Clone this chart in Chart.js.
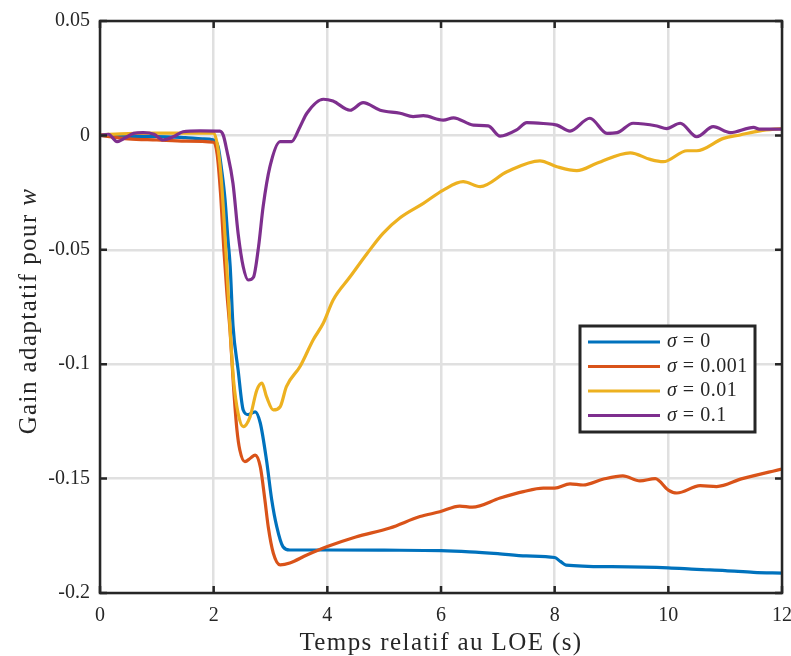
<!DOCTYPE html>
<html>
<head>
<meta charset="utf-8">
<script src="https://cdn.jsdelivr.net/npm/chart.js@4.4.1/dist/chart.umd.min.js"></script>
<style>
  html, body { margin: 0; padding: 0; background: #fff; }
  #wrap { width: 791px; height: 656px; }
</style>
</head>
<body>
<div id="wrap"><canvas id="gain-chart" width="791" height="656"></canvas></div>
<script>
// axis ticks
const xTicks = [0, 2, 4, 6, 8, 10, 12];
const yTicks = [0.05, 0, -0.05, -0.1, -0.15, -0.2];
const yTickLabels = ['0.05', '0', '-0.05', '-0.1', '-0.15', '-0.2'];

// sigma = 0
const tSigma0 = [0, 0.5, 1.0, 1.5, 1.8, 2.0, 2.08, 2.14, 2.2, 2.25, 2.29, 2.34, 2.43, 2.52, 2.61, 2.73, 2.82, 2.93, 3.02, 3.11, 3.22, 3.34, 4, 5, 6, 6.5, 7, 7.5, 8.0, 8.1, 8.2, 9, 10, 10.5, 11, 11.5, 12];
const gSigma0 = [0, -0.0005, -0.0005, -0.001, -0.0015, -0.002, -0.005, -0.015, -0.028, -0.045, -0.057, -0.083, -0.1025, -0.12, -0.122, -0.1208, -0.1257, -0.142, -0.159, -0.171, -0.1798, -0.1812, -0.1812, -0.1813, -0.1815, -0.182, -0.1828, -0.1838, -0.1845, -0.1862, -0.1878, -0.1885, -0.189, -0.1897, -0.1902, -0.191, -0.1913];

// sigma = 0.001
const tSigma1 = [0, 0.5, 1.0, 1.5, 2.0, 2.06, 2.12, 2.18, 2.23, 2.29, 2.35, 2.41, 2.46, 2.55, 2.65, 2.73, 2.82, 2.9, 2.96, 3.05, 3.17, 3.34, 3.64, 4.0, 4.5, 5.1, 5.63, 5.98, 6.33, 6.55, 7.04, 7.45, 7.8, 8.0, 8.27, 8.5, 8.86, 9.2, 9.5, 9.77, 10.0, 10.15, 10.56, 10.85, 11.3, 12];
const gSigma1 = [0, -0.0015, -0.002, -0.0025, -0.003, -0.008, -0.025, -0.05, -0.068, -0.086, -0.11, -0.1288, -0.1375, -0.1426, -0.141, -0.1397, -0.1448, -0.159, -0.171, -0.1826, -0.1877, -0.1869, -0.1834, -0.1797, -0.1755, -0.1716, -0.1666, -0.1645, -0.162, -0.1625, -0.1585, -0.1557, -0.1542, -0.1542, -0.1523, -0.1528, -0.1502, -0.1488, -0.151, -0.150, -0.155, -0.1563, -0.1531, -0.1535, -0.150, -0.1458];

// sigma = 0.01
const tSigma2 = [0, 0.5, 1.0, 1.5, 2.0, 2.08, 2.14, 2.23, 2.29, 2.35, 2.43, 2.52, 2.64, 2.76, 2.85, 2.93, 3.05, 3.17, 3.28, 3.52, 3.75, 3.93, 4.1, 4.4, 4.7, 4.98, 5.28, 5.69, 6.04, 6.39, 6.69, 7.16, 7.74, 8.04, 8.39, 8.74, 9.33, 9.68, 9.91, 10.33, 10.5, 10.97, 11.26, 11.61, 12];
const gSigma2 = [0.0003, 0.0008, 0.001, 0.001, 0.001, -0.0064, -0.021, -0.057, -0.085, -0.107, -0.1215, -0.1273, -0.123, -0.1113, -0.1083, -0.1142, -0.12, -0.1186, -0.1098, -0.101, -0.0894, -0.082, -0.072, -0.0618, -0.0516, -0.0428, -0.036, -0.0297, -0.0239, -0.0202, -0.0224, -0.0159, -0.0111, -0.0137, -0.0154, -0.0122, -0.0076, -0.0105, -0.0115, -0.0067, -0.0067, -0.0013, 0.0002, 0.002, 0.003];

// sigma = 0.1
const tSigma3 = [0, 0.15, 0.3, 0.45, 0.59, 0.76, 0.95, 1.11, 1.3, 1.46, 1.76, 2.11, 2.17, 2.23, 2.34, 2.43, 2.52, 2.61, 2.7, 2.79, 2.87, 2.99, 3.17, 3.37, 3.52, 3.64, 3.93, 4.1, 4.4, 4.63, 4.93, 5.28, 5.51, 5.69, 6.04, 6.22, 6.57, 6.83, 7.04, 7.33, 7.51, 7.8, 8.04, 8.27, 8.62, 8.92, 9.1, 9.38, 9.8, 9.97, 10.21, 10.5, 10.79, 11.09, 11.5, 11.6, 12];
const gSigma3 = [0, 0.0005, -0.0027, -0.001, 0.0009, 0.0012, 0.0005, -0.002, -0.0005, 0.0016, 0.002, 0.0019, 0, -0.0064, -0.021, -0.0428, -0.0574, -0.0632, -0.062, -0.0486, -0.0312, -0.0137, -0.0027, -0.0027, 0.0038, 0.0097, 0.0158, 0.015, 0.011, 0.0143, 0.011, 0.0097, 0.0082, 0.0086, 0.0067, 0.0077, 0.0045, 0.0042, -0.0003, 0.0024, 0.0056, 0.0052, 0.0045, 0.0019, 0.0075, 0.0009, 0.0012, 0.0053, 0.0041, 0.003, 0.0053, -0.0006, 0.0038, 0.0012, 0.0035, 0.0027, 0.0027];

const seriesLabels = ['0', '0.001', '0.01', '0.1'];
const seriesColors = ['#0072BD', '#D95319', '#EDB120', '#7E2F8E'];

const FONT = '"Liberation Serif", "DejaVu Serif", serif';
const INK = '#262626';

function toPoints(t, g) {
    return t.map(function (v, i) { return { x: v, y: g[i] }; });
}

const allT = [tSigma0, tSigma1, tSigma2, tSigma3];
const allG = [gSigma0, gSigma1, gSigma2, gSigma3];

const datasets = seriesLabels.map(function (lab, i) {
    return {
        label: 'σ = ' + lab,
        data: toPoints(allT[i], allG[i]),
        borderColor: seriesColors[i],
        backgroundColor: seriesColors[i],
        borderWidth: 3.2,
        pointRadius: 0,
        cubicInterpolationMode: 'monotone',
        order: 3 - i
    };
});

// frame, inward ticks, legend and axis titles (MATLAB style)
const matlabBox = {
    id: 'matlabBox',
    afterDatasetsDraw: function (chart) {
        const ctx = chart.ctx;
        const a = chart.chartArea;
        const xs = chart.scales.x, ys = chart.scales.y;
        ctx.save();
        ctx.strokeStyle = INK;
        ctx.lineWidth = 2.5;
        ctx.strokeRect(a.left, a.top, a.right - a.left, a.bottom - a.top);
        ctx.beginPath();
        xTicks.forEach(function (v) {
            const p = xs.getPixelForValue(v);
            ctx.moveTo(p, a.bottom); ctx.lineTo(p, a.bottom - 7);
            ctx.moveTo(p, a.top); ctx.lineTo(p, a.top + 7);
        });
        yTicks.forEach(function (v) {
            const p = ys.getPixelForValue(v);
            ctx.moveTo(a.left, p); ctx.lineTo(a.left + 7, p);
            ctx.moveTo(a.right, p); ctx.lineTo(a.right - 7, p);
        });
        ctx.stroke();

        // legend box
        const lx = a.left + 480, ly = a.top + 305, lw = 175, lh = 106;
        ctx.fillStyle = '#fff';
        ctx.fillRect(lx, ly, lw, lh);
        ctx.lineWidth = 3;
        ctx.strokeRect(lx, ly, lw, lh);
        ctx.textBaseline = 'middle';
        seriesLabels.forEach(function (lab, i) {
            const yy = ly + 16 + i * 24.5;
            ctx.strokeStyle = seriesColors[i];
            ctx.lineWidth = 3.2;
            ctx.beginPath();
            ctx.moveTo(lx + 8, yy); ctx.lineTo(lx + 80, yy);
            ctx.stroke();
            ctx.fillStyle = INK;
            ctx.letterSpacing = '0.5px';
            ctx.font = 'italic 20px ' + FONT;
            ctx.fillText('σ', lx + 87, yy);
            const sw = ctx.measureText('σ').width;
            ctx.font = '20px ' + FONT;
            ctx.fillText(' = ' + lab, lx + 87 + sw, yy);
        });

        // axis titles
        ctx.fillStyle = INK;
        ctx.letterSpacing = '1.4px';
        ctx.textBaseline = 'alphabetic';
        ctx.textAlign = 'center';
        ctx.font = '25px ' + FONT;
        ctx.fillText('Temps relatif au LOE (s)', (a.left + a.right) / 2, 650);

        ctx.translate(36, (a.top + a.bottom) / 2 + 4);
        ctx.rotate(-Math.PI / 2);
        ctx.textAlign = 'left';
        const main = 'Gain adaptatif pour ';
        ctx.font = '25px ' + FONT;
        const mw = ctx.measureText(main).width;
        ctx.font = 'italic 25px ' + FONT;
        const ww = ctx.measureText('w').width;
        const start = -(mw + ww) / 2;
        ctx.font = '25px ' + FONT;
        ctx.fillText(main, start, 0);
        ctx.font = 'italic 25px ' + FONT;
        ctx.fillText('w', start + mw, 0);
        ctx.restore();
    }
};

const ctx = document.getElementById('gain-chart').getContext('2d');
const gainChart = new Chart(ctx, {
    type: 'line',
    data: { datasets: datasets },
    options: {
        responsive: false,
        animation: false,
        layout: { padding: { left: 0, right: 9, top: 21, bottom: 0 } },
        plugins: {
            legend: { display: false },
            tooltip: { enabled: false }
        },
        scales: {
            x: {
                type: 'linear',
                min: 0,
                max: 12,
                afterBuildTicks: function (scale) {
                    scale.ticks = xTicks.map(function (v) { return { value: v }; });
                },
                afterFit: function (scale) {
                    scale.height = 63;
                    scale.paddingLeft = 0;
                    scale.paddingRight = 0;
                },
                ticks: {
                    color: INK,
                    font: { family: FONT, size: 20 },
                    padding: 11,
                    maxRotation: 0
                },
                grid: { color: '#e0e0e0', lineWidth: 2.5, drawTicks: false },
                border: { display: false }
            },
            y: {
                min: -0.2,
                max: 0.05,
                afterBuildTicks: function (scale) {
                    scale.ticks = yTicks.map(function (v) { return { value: v }; });
                },
                afterFit: function (scale) {
                    scale.width = 100;
                    scale.paddingTop = 0;
                    scale.paddingBottom = 0;
                },
                ticks: {
                    color: INK,
                    font: { family: FONT, size: 20 },
                    padding: 10,
                    callback: function (value) {
                        const k = yTicks.indexOf(value);
                        return k >= 0 ? yTickLabels[k] : '';
                    }
                },
                grid: { color: '#e0e0e0', lineWidth: 2.5, drawTicks: false },
                border: { display: false }
            }
        }
    },
    plugins: [matlabBox]
});
</script>
</body>
</html>
